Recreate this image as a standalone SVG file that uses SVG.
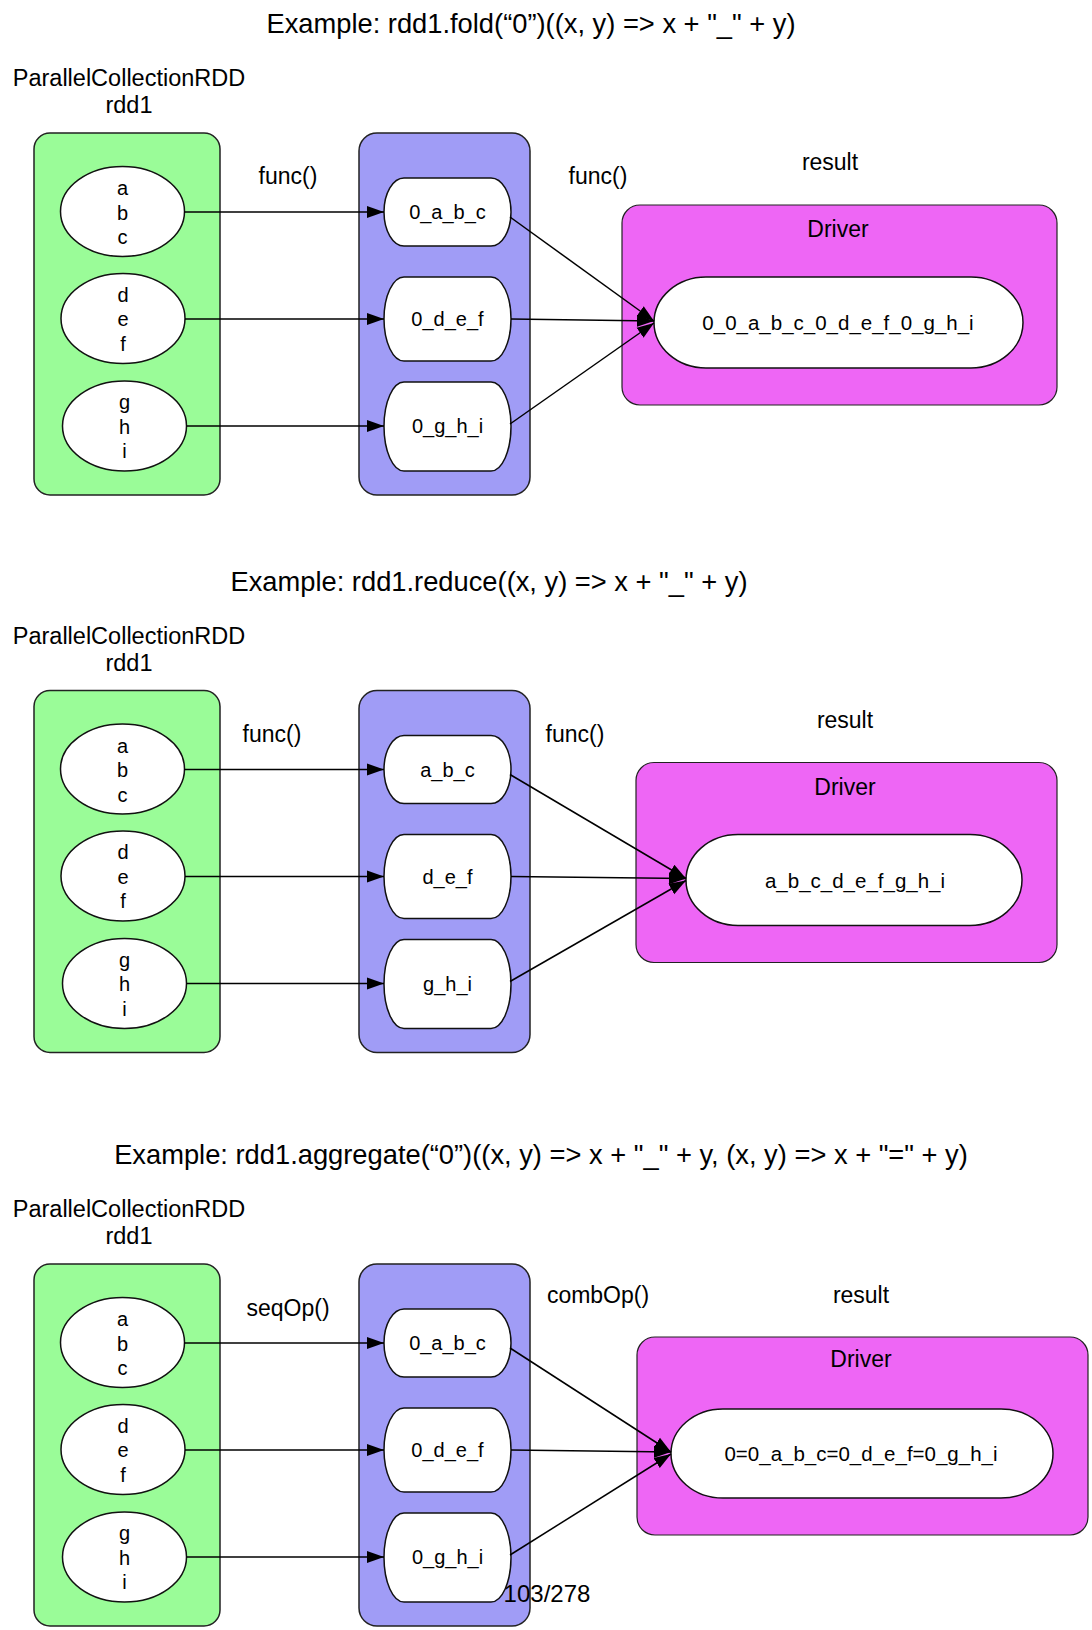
<svg xmlns="http://www.w3.org/2000/svg" width="1092" height="1630" viewBox="0 0 1092 1630">
<style>
text{font-family:"Liberation Sans",Arial,sans-serif;fill:#000;text-anchor:middle}
.title{font-size:27.3px}
.lbl{font-size:23px}
.hdr{font-size:23.5px}
.el{font-size:20px}
.bx{font-size:20px}
.res{font-size:20.5px}
.green{fill:#9afc98;stroke:#222;stroke-width:1.5}
.purple{fill:#a09cf6;stroke:#222;stroke-width:1.5}
.mag{fill:#ee66f5;stroke:#222;stroke-width:1.2}
.node{fill:#fff;stroke:#111;stroke-width:1.5}
.edge{stroke:#000;stroke-width:1.5;fill:none;marker-end:url(#ah)}
</style>
<defs>
<marker id="ah" markerUnits="userSpaceOnUse" markerWidth="18" markerHeight="14" refX="17" refY="7" orient="auto">
<path d="M0,1 L17,7 L0,13 z" fill="#000"/>
</marker>
</defs>

<!-- Section 1: fold -->
<g id="section-fold">
<text class="title" x="531" y="33">Example: rdd1.fold(“0”)((x, y) =&gt; x + "_" + y)</text>
<text class="hdr" x="129" y="86">ParallelCollectionRDD</text>
<text class="hdr" x="129" y="113">rdd1</text>
<g id="fold-rdd1"><rect class="green" x="34" y="133" width="186" height="362" rx="16"/></g>
<g id="fold-part"><rect class="purple" x="359" y="133" width="171" height="362" rx="18"/></g>
<g id="fold-e1"><ellipse class="node" cx="122.5" cy="211.5" rx="62" ry="45"/><text class="el" x="122.5" y="195">a</text><text class="el" x="122.5" y="219.5">b</text><text class="el" x="122.5" y="244">c</text></g>
<g id="fold-e2"><ellipse class="node" cx="123" cy="318.5" rx="62" ry="45"/><text class="el" x="123" y="301.5">d</text><text class="el" x="123" y="326">e</text><text class="el" x="123" y="350.5">f</text></g>
<g id="fold-e3"><ellipse class="node" cx="124.5" cy="426" rx="62" ry="45"/><text class="el" x="124.5" y="409">g</text><text class="el" x="124.5" y="433.5">h</text><text class="el" x="124.5" y="458">i</text></g>
<g id="fold-b1"><rect class="node" x="384" y="178" width="127" height="68" rx="20" ry="34"/><text class="bx" x="447.5" y="219">0_a_b_c</text></g>
<g id="fold-b2"><rect class="node" x="384" y="277" width="127" height="84" rx="20" ry="42"/><text class="bx" x="447.5" y="326">0_d_e_f</text></g>
<g id="fold-b3"><rect class="node" x="384" y="382" width="127" height="89" rx="20" ry="44.5"/><text class="bx" x="447.5" y="433">0_g_h_i</text></g>
<text class="lbl" x="288" y="184">func()</text>
<text class="lbl" x="598" y="184">func()</text>
<text class="lbl" x="830" y="170">result</text>
<g id="fold-driver"><rect class="mag" x="622" y="205" width="435" height="200" rx="18"/><text class="lbl" x="838" y="237">Driver</text></g>
<g id="fold-result"><rect class="node" x="654" y="277" width="369" height="91" rx="52" ry="45.5"/><text class="res" x="838" y="330">0_0_a_b_c_0_d_e_f_0_g_h_i</text></g>
<g id="fold-edges">
<line class="edge" x1="184" y1="212" x2="384" y2="212"/>
<line class="edge" x1="185" y1="319" x2="384" y2="319"/>
<line class="edge" x1="186.5" y1="426" x2="384" y2="426"/>
<line class="edge" x1="510" y1="217" x2="654" y2="321"/>
<line class="edge" x1="511" y1="319" x2="654" y2="321"/>
<line class="edge" x1="510" y1="424" x2="654" y2="323"/>
</g>
</g>

<!-- Section 2: reduce -->
<g id="section-reduce" transform="translate(0,557.5)">
<text class="title" x="489" y="33">Example: rdd1.reduce((x, y) =&gt; x + "_" + y)</text>
<text class="hdr" x="129" y="86">ParallelCollectionRDD</text>
<text class="hdr" x="129" y="113">rdd1</text>
<g id="reduce-rdd1"><rect class="green" x="34" y="133" width="186" height="362" rx="16"/></g>
<g id="reduce-part"><rect class="purple" x="359" y="133" width="171" height="362" rx="18"/></g>
<g id="reduce-e1"><ellipse class="node" cx="122.5" cy="211.5" rx="62" ry="45"/><text class="el" x="122.5" y="195">a</text><text class="el" x="122.5" y="219.5">b</text><text class="el" x="122.5" y="244">c</text></g>
<g id="reduce-e2"><ellipse class="node" cx="123" cy="318.5" rx="62" ry="45"/><text class="el" x="123" y="301.5">d</text><text class="el" x="123" y="326">e</text><text class="el" x="123" y="350.5">f</text></g>
<g id="reduce-e3"><ellipse class="node" cx="124.5" cy="426" rx="62" ry="45"/><text class="el" x="124.5" y="409">g</text><text class="el" x="124.5" y="433.5">h</text><text class="el" x="124.5" y="458">i</text></g>
<g id="reduce-b1"><rect class="node" x="384" y="178" width="127" height="68" rx="20" ry="34"/><text class="bx" x="447.5" y="219">a_b_c</text></g>
<g id="reduce-b2"><rect class="node" x="384" y="277" width="127" height="84" rx="20" ry="42"/><text class="bx" x="447.5" y="326">d_e_f</text></g>
<g id="reduce-b3"><rect class="node" x="384" y="382" width="127" height="89" rx="20" ry="44.5"/><text class="bx" x="447.5" y="433">g_h_i</text></g>
<text class="lbl" x="272" y="184">func()</text>
<text class="lbl" x="575" y="184">func()</text>
<text class="lbl" x="845" y="170">result</text>
<g id="reduce-driver"><rect class="mag" x="636" y="205" width="421" height="200" rx="18"/><text class="lbl" x="845" y="237">Driver</text></g>
<g id="reduce-result"><rect class="node" x="686" y="277" width="336" height="91" rx="52" ry="45.5"/><text class="res" x="855" y="330">a_b_c_d_e_f_g_h_i</text></g>
<g id="reduce-edges">
<line class="edge" x1="184" y1="212" x2="384" y2="212"/>
<line class="edge" x1="185" y1="319" x2="384" y2="319"/>
<line class="edge" x1="186.5" y1="426" x2="384" y2="426"/>
<line class="edge" x1="510" y1="217" x2="686" y2="321"/>
<line class="edge" x1="511" y1="319" x2="686" y2="321"/>
<line class="edge" x1="510" y1="424" x2="686" y2="323"/>
</g>
</g>

<!-- Section 3: aggregate -->
<g id="section-aggregate" transform="translate(0,1131)">
<text class="title" x="541" y="33">Example: rdd1.aggregate(“0”)((x, y) =&gt; x + "_" + y, (x, y) =&gt; x + "=" + y)</text>
<text class="hdr" x="129" y="86">ParallelCollectionRDD</text>
<text class="hdr" x="129" y="113">rdd1</text>
<g id="agg-rdd1"><rect class="green" x="34" y="133" width="186" height="362" rx="16"/></g>
<g id="agg-part"><rect class="purple" x="359" y="133" width="171" height="362" rx="18"/></g>
<g id="agg-e1"><ellipse class="node" cx="122.5" cy="211.5" rx="62" ry="45"/><text class="el" x="122.5" y="195">a</text><text class="el" x="122.5" y="219.5">b</text><text class="el" x="122.5" y="244">c</text></g>
<g id="agg-e2"><ellipse class="node" cx="123" cy="318.5" rx="62" ry="45"/><text class="el" x="123" y="301.5">d</text><text class="el" x="123" y="326">e</text><text class="el" x="123" y="350.5">f</text></g>
<g id="agg-e3"><ellipse class="node" cx="124.5" cy="426" rx="62" ry="45"/><text class="el" x="124.5" y="409">g</text><text class="el" x="124.5" y="433.5">h</text><text class="el" x="124.5" y="458">i</text></g>
<g id="agg-b1"><rect class="node" x="384" y="178" width="127" height="68" rx="20" ry="34"/><text class="bx" x="447.5" y="219">0_a_b_c</text></g>
<g id="agg-b2"><rect class="node" x="384" y="277" width="127" height="84" rx="20" ry="42"/><text class="bx" x="447.5" y="326">0_d_e_f</text></g>
<g id="agg-b3"><rect class="node" x="384" y="382" width="127" height="89" rx="20" ry="44.5"/><text class="bx" x="447.5" y="433">0_g_h_i</text></g>
<text class="lbl" x="288" y="185">seqOp()</text>
<text class="lbl" x="598" y="172">combOp()</text>
<text class="lbl" x="861" y="172">result</text>
<g id="agg-driver"><rect class="mag" x="637" y="206" width="451" height="198" rx="18"/><text class="lbl" x="861" y="236">Driver</text></g>
<g id="agg-result"><rect class="node" x="671" y="278" width="382" height="89" rx="52" ry="44.5"/><text class="res" x="861" y="330">0=0_a_b_c=0_d_e_f=0_g_h_i</text></g>
<g id="agg-edges">
<line class="edge" x1="184" y1="212" x2="384" y2="212"/>
<line class="edge" x1="185" y1="319" x2="384" y2="319"/>
<line class="edge" x1="186.5" y1="426" x2="384" y2="426"/>
<line class="edge" x1="510" y1="217" x2="671" y2="321"/>
<line class="edge" x1="511" y1="319" x2="671" y2="321"/>
<line class="edge" x1="510" y1="424" x2="671" y2="323"/>
</g>
</g>

<text x="547" y="1602" style="font-size:24px">103/278</text>
</svg>
